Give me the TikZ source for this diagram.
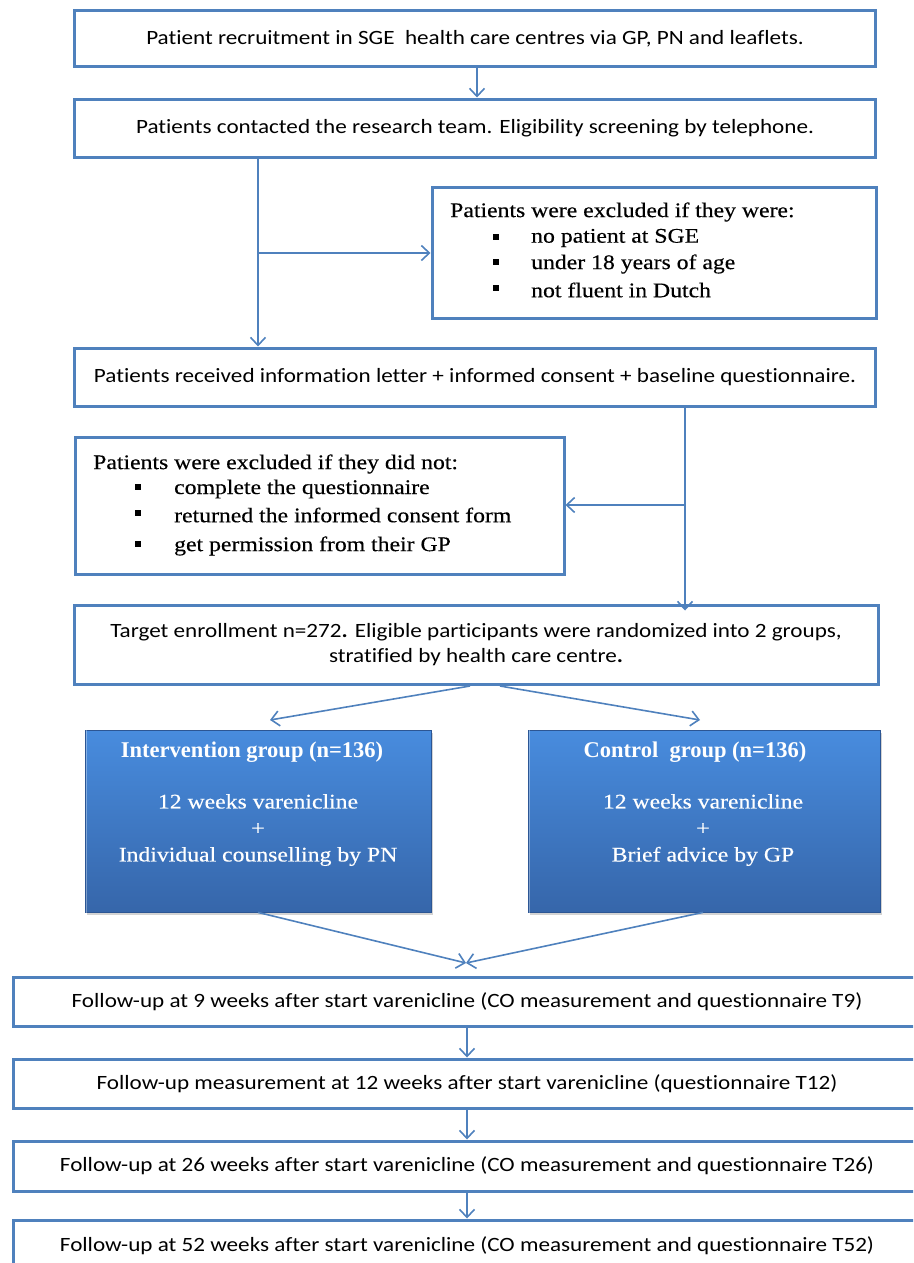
\documentclass[tikz,border=0pt]{standalone}
\usepackage{fontspec}
\usetikzlibrary{arrows.meta,shadows}
\newfontfamily\calfont[FakeStretch=1.14,Ligatures=NoCommon]{Carlito}
\newfontfamily\cambfont[FakeStretch=1.14,FakeBold=0.35]{Liberation Serif}
\newfontfamily\timesfont{Liberation Serif}
\definecolor{bl}{RGB}{79,129,189}
\definecolor{btop}{RGB}{72,140,222}
\definecolor{bbot}{RGB}{54,102,170}
\definecolor{bedge}{RGB}{44,86,148}
\tikzset{
  box/.style={draw=bl, line width=3pt, fill=white, inner sep=0pt},
  calt/.style={font=\calfont\fontsize{20.3}{25}\selectfont, align=center},
  cambt/.style={font=\cambfont\fontsize{20.8}{25.5}\selectfont, anchor=west, inner sep=0pt},
  bullet/.style={fill=black, minimum width=5.5pt, minimum height=6pt, inner sep=0pt},
  bluebox/.style={draw=bedge, line width=0.8pt, top color=btop, bottom color=bbot,
     drop shadow={opacity=0.35, shadow xshift=2pt, shadow yshift=-3pt}},
  bevel/.style={draw=white, draw opacity=0.35, line width=1.2pt},
  btitle/.style={font=\timesfont\bfseries\fontsize{22.5}{26}\selectfont, text=white, inner sep=0pt},
  bbody/.style={font=\cambfont\fontsize{20.8}{26.5}\selectfont, text=white, align=center, inner sep=0pt},
  conn/.style={draw=bl, line width=1.6pt, -{Straight Barb[length=8pt,width=15pt,line width=1.6pt]}}
}
\begin{document}
\begin{tikzpicture}[x=1pt,y=-1pt]
\useasboundingbox (0,0) rectangle (913,1263);
\clip (0,0) rectangle (913,1263);
% main boxes
\node[box, minimum width=801pt, minimum height=56pt, calt] (b1) at (475,39) {Patient recruitment in SGE\ \ health care centres via GP, PN and leaflets.};
\node[box, minimum width=801pt, minimum height=58pt, calt] (b2) at (475,128) {Patients contacted the research team. Eligibility screening by telephone.};
\node[box, minimum width=444pt, minimum height=131pt] (b3) at (654,252.5) {};
\node[box, minimum width=801pt, minimum height=58pt, calt] (b4) at (475,377) {Patients received information letter + informed consent + baseline questionnaire.};
\node[box, minimum width=489pt, minimum height=137pt] (b5) at (319.5,505.5) {};
\node[box, minimum width=804pt, minimum height=79pt, calt] (b6) at (476,644.5) {Target enrollment n=272\textbf{.} Eligible participants were randomized into 2 groups,\\stratified by health care centre\textbf{.}};
% exclusion box 1 text
\node[cambt] (e1t) at (450,212) {Patients were excluded if they were:};
\node[bullet] (e1b1) at (496,237) {};
\node[bullet] (e1b2) at (496,262) {};
\node[bullet] (e1b3) at (496,288) {};
\node[cambt] (e1a) at (531,238) {no patient at SGE};
\node[cambt] (e1b) at (531,264) {under 18 years of age};
\node[cambt] (e1c) at (531,290) {not fluent in Dutch};
% exclusion box 2 text
\node[cambt] (e2t) at (93,464) {Patients were excluded if they did not:};
\node[bullet] (e2b1) at (138,487) {};
\node[bullet] (e2b2) at (138,513) {};
\node[bullet] (e2b3) at (138,544) {};
\node[cambt] (e2a) at (174,489) {complete the questionnaire};
\node[cambt] (e2b) at (174,515) {returned the informed consent form};
\node[cambt] (e2c) at (174,546) {get permission from their GP};
% blue boxes
\node[bluebox, minimum width=346pt, minimum height=182pt] (gl) at (258,821) {};
\node[bluebox, minimum width=352pt, minimum height=182pt] (gr) at (704,821) {};
\draw[bevel] ([shift={(2pt,-2pt)}]gl.south west) -- ([shift={(2pt,2pt)}]gl.north west) -- ([shift={(-2pt,2pt)}]gl.north east);
\draw[bevel] ([shift={(2pt,-2pt)}]gr.south west) -- ([shift={(2pt,2pt)}]gr.north west) -- ([shift={(-2pt,2pt)}]gr.north east);
\node[btitle] (glt) at (252,752) {Intervention group (n=136)};
\node[btitle] (grt) at (695,752) {Control\ \ group (n=136)};
\node[bbody] (glb) at (258,830) {12 weeks varenicline\\+\\Individual counselling by PN};
\node[bbody] (grb) at (703,830) {12 weeks varenicline\\+\\Brief advice by GP};
% follow-up boxes
\node[box, minimum width=908pt, minimum height=49pt, calt] (f1) at (467,1001.5) {Follow-up at 9 weeks after start varenicline (CO measurement and questionnaire T9)};
\node[box, minimum width=908pt, minimum height=49pt, calt] (f2) at (467,1083.5) {Follow-up measurement at 12 weeks after start varenicline (questionnaire T12)};
\node[box, minimum width=908pt, minimum height=50pt, calt] (f3) at (467,1166) {Follow-up at 26 weeks after start varenicline (CO measurement and questionnaire T26)};
\node[box, minimum width=908pt, minimum height=52pt, calt] (f4) at (467,1246) {\raisebox{-2pt}{Follow-up at 52 weeks after start varenicline (CO measurement and questionnaire T52)}};
% coordinates
\coordinate (c1) at (258,0);
\coordinate (c2) at (685,0);
\coordinate (j1) at (258,253);
\coordinate (j2) at (685,505);
\coordinate (a1) at (270,720);
\coordinate (a2) at (700,720);
\coordinate (s1) at (470,686);
\coordinate (s2) at (500,686);
\coordinate (m) at (466,963);
% connectors
\draw[conn] ([xshift=2pt]b1.south) -- ([xshift=2pt]b2.north);
\draw[conn] (b2.south -| c1) -- (b4.north -| c1);
\draw[conn] (j1) -- (b3.west |- j1);
\draw[conn] (b4.south -| c2) -- ([yshift=-7pt]b6.north -| c2);
\draw[conn] (j2) -- (b5.east |- j2);
\draw[conn] (s1) -- (a1);
\draw[conn] (s2) -- (a2);
\draw[conn] (gl.south) -- (m);
\draw[conn] ([xshift=-1pt]gr.south) -- (m);
\draw[conn] (f1.south) -- (f2.north);
\draw[conn] (f2.south) -- (f3.north);
\draw[conn] (f3.south) -- (f4.north);
\end{tikzpicture}
\end{document}
